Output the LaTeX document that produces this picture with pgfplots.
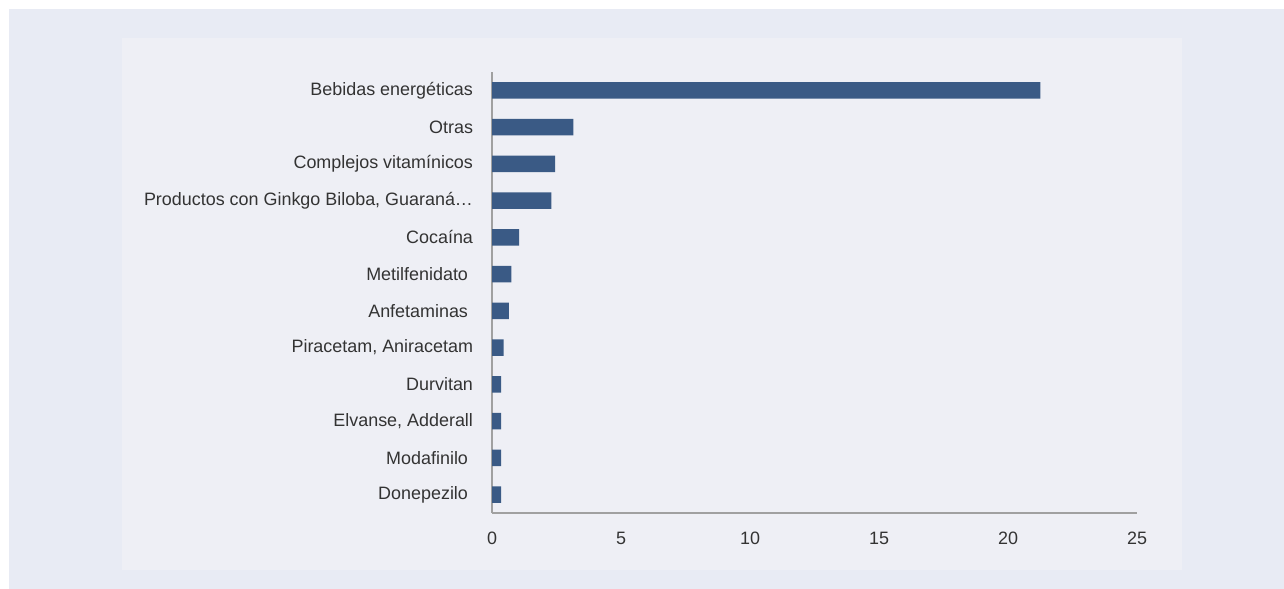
\documentclass[border=0pt]{standalone}
\usepackage{fontspec}
\setmainfont{Liberation Sans}
\usepackage{pgfplots}
\pgfplotsset{compat=1.18}
\definecolor{outerbg}{RGB}{232,235,244}
\definecolor{innerbg}{RGB}{238,239,245}
\definecolor{barc}{RGB}{58,90,133}
\definecolor{axc}{RGB}{160,160,160}
\definecolor{txt}{RGB}{51,51,51}
\begin{document}
\begin{tikzpicture}
\begin{scope}[x=0.5bp,y=-0.5bp]
\fill[white] (0,0) rectangle (1284,589);
\path[use as bounding box] (0,0) rectangle (1284,589);
\fill[outerbg] (9,9) rectangle (1284,589);
\fill[innerbg] (122,38) rectangle (1182,570);
\end{scope}
\begin{axis}[
  at={(246bp,-256.5bp)}, anchor=south west,
  scale only axis, width=322.5bp, height=220.5bp,
  xmin=0, xmax=25, ymin=-0.5, ymax=11.5, y dir=reverse,
  xbar, bar width=8.25bp,
  axis x line=bottom, axis y line=left,
  axis line style={axc, line width=1bp, -},
  xtick={0,5,...,25}, ytick={0,...,11},
  yticklabels={Bebidas energéticas, Otras, Complejos vitamínicos, {Productos con Ginkgo Biloba, Guaraná…}, Cocaína, Metilfenidato\hspace*{2.5bp}, Anfetaminas\hspace*{2.5bp}, {Piracetam, Aniracetam}, Durvitan, {Elvanse, Adderall}, Modafinilo\hspace*{2.5bp}, Donepezilo\hspace*{2.5bp}},
  major tick length=0pt,
  tick label style={font=\fontsize{9}{11}\selectfont, text=txt},
  xticklabel style={yshift=-6bp},
  yticklabel style={xshift=-6bp},
  /pgf/number format/assume math mode=true,
  enlargelimits=false, clip=false,
]
\addplot[fill=barc, draw=none] coordinates {(21.25,0) (3.15,1) (2.45,2) (2.3,3) (1.05,4) (0.75,5) (0.65,6) (0.45,7) (0.35,8) (0.35,9) (0.35,10) (0.35,11)};
\end{axis}
\end{tikzpicture}
\end{document}
